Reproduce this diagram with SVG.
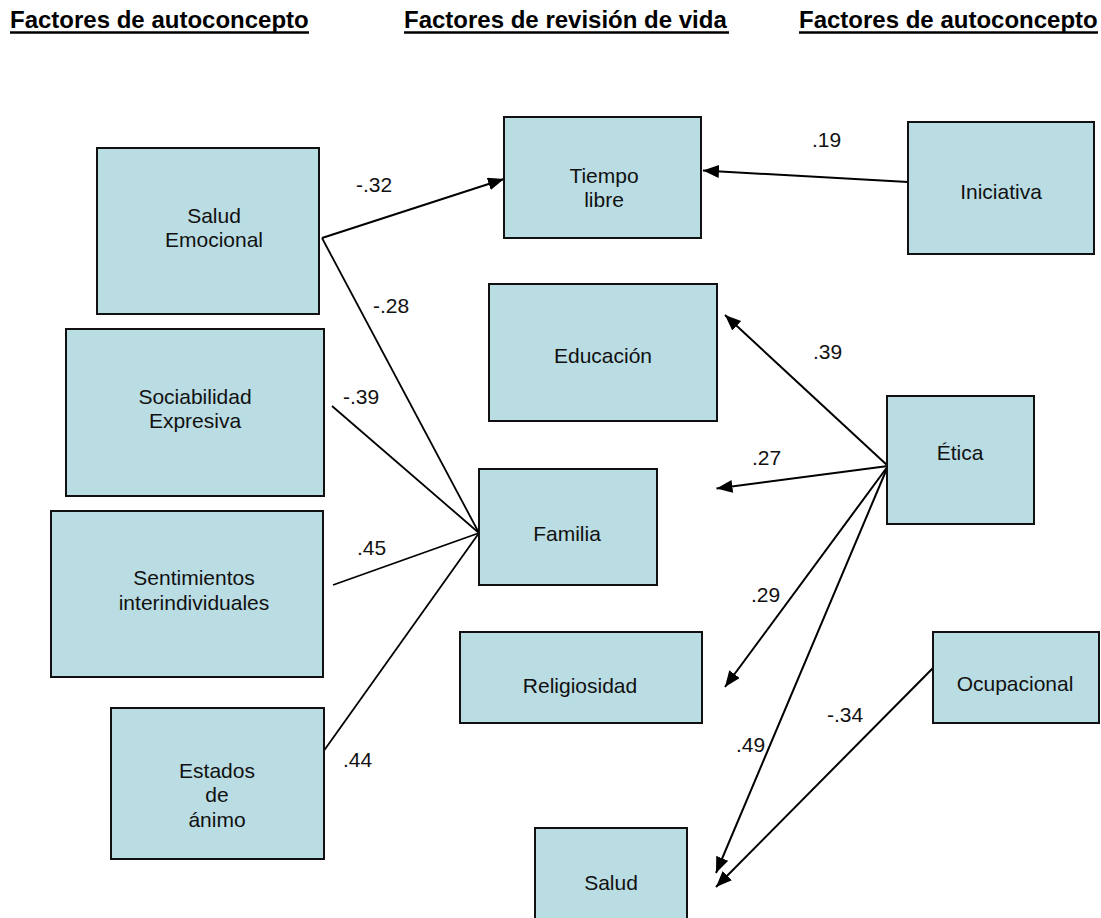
<svg xmlns="http://www.w3.org/2000/svg" width="1101" height="918" viewBox="0 0 1101 918">
<style>
.box{fill:#BADDE3;stroke:#111;stroke-width:2}
.t{font-family:"Liberation Sans",Arial,sans-serif;font-size:21px;fill:#111;text-anchor:middle}
.lbl{font-family:"Liberation Sans",Arial,sans-serif;font-size:21px;fill:#111}
.hdr{font-family:"Liberation Sans",Arial,sans-serif;font-size:24px;font-weight:bold;fill:#000}
.ul{stroke:#000;stroke-width:2.6}
.ln{stroke:#000;stroke-width:1.8;fill:none}
.ar{stroke:#000;stroke-width:2;fill:none;marker-end:url(#ah)}
</style>
<defs>
<marker id="ah" markerUnits="userSpaceOnUse" markerWidth="17" markerHeight="14" refX="16" refY="6.5" orient="auto">
<path d="M0,0 L16,6.5 L0,13 z" fill="#000"/>
</marker>
</defs>
<rect width="1101" height="918" fill="#fff"/>
<g id="headers">
<text class="hdr" x="10" y="28">Factores de autoconcepto</text>
<line class="ul" x1="10" y1="32.5" x2="309" y2="32.5"/>
<text class="hdr" x="404" y="28">Factores de revisión de vida</text>
<line class="ul" x1="404" y1="32.5" x2="729" y2="32.5"/>
<text class="hdr" x="799" y="28">Factores de autoconcepto</text>
<line class="ul" x1="799" y1="32.5" x2="1098" y2="32.5"/>
</g>
<g id="connectors">
<line class="ar" x1="322" y1="238" x2="504" y2="179"/>
<line class="ar" x1="908" y1="182" x2="703" y2="170.5"/>
<line class="ln" x1="322" y1="238" x2="479" y2="533"/>
<line class="ln" x1="332" y1="406" x2="479" y2="533"/>
<line class="ln" x1="333" y1="585" x2="479" y2="533"/>
<line class="ln" x1="323" y1="752" x2="479" y2="533"/>
<line class="ar" x1="888" y1="466" x2="725" y2="315"/>
<line class="ar" x1="888" y1="466" x2="716.5" y2="488.5"/>
<line class="ar" x1="888" y1="466" x2="725" y2="687"/>
<line class="ar" x1="888" y1="466" x2="716" y2="873"/>
<line class="ar" x1="933" y1="668" x2="716" y2="887"/>
</g>
<g id="labels">
<text class="lbl" x="356" y="192">-.32</text>
<text class="lbl" x="812" y="147">.19</text>
<text class="lbl" x="373" y="313">-.28</text>
<text class="lbl" x="343" y="404">-.39</text>
<text class="lbl" x="357" y="555">.45</text>
<text class="lbl" x="343" y="767">.44</text>
<text class="lbl" x="813" y="359">.39</text>
<text class="lbl" x="752" y="465">.27</text>
<text class="lbl" x="751" y="602">.29</text>
<text class="lbl" x="736" y="752">.49</text>
<text class="lbl" x="827" y="722">-.34</text>
</g>
<g id="salud-emocional">
<rect class="box" x="97" y="148" width="222" height="166"/>
<text class="t" x="214" y="223">Salud</text>
<text class="t" x="214" y="247">Emocional</text>
</g>
<g id="sociabilidad">
<rect class="box" x="66" y="329" width="258" height="167"/>
<text class="t" x="195" y="404">Sociabilidad</text>
<text class="t" x="195" y="428">Expresiva</text>
</g>
<g id="sentimientos">
<rect class="box" x="51" y="511" width="272" height="166"/>
<text class="t" x="194" y="585">Sentimientos</text>
<text class="t" x="194" y="610">interindividuales</text>
</g>
<g id="estados">
<rect class="box" x="111" y="708" width="213" height="151"/>
<text class="t" x="217" y="778">Estados</text>
<text class="t" x="217" y="802">de</text>
<text class="t" x="217" y="827">ánimo</text>
</g>
<g id="tiempo-libre">
<rect class="box" x="504" y="117" width="197" height="121"/>
<text class="t" x="604" y="183">Tiempo</text>
<text class="t" x="604" y="207">libre</text>
</g>
<g id="educacion">
<rect class="box" x="489" y="284" width="228" height="137"/>
<text class="t" x="603" y="363">Educación</text>
</g>
<g id="familia">
<rect class="box" x="479" y="469" width="178" height="116"/>
<text class="t" x="567" y="541">Familia</text>
</g>
<g id="religiosidad">
<rect class="box" x="460" y="632" width="242" height="91"/>
<text class="t" x="580" y="693">Religiosidad</text>
</g>
<g id="salud">
<rect class="box" x="535" y="828" width="152" height="95"/>
<text class="t" x="611" y="890">Salud</text>
</g>
<g id="iniciativa">
<rect class="box" x="908" y="122" width="186" height="132"/>
<text class="t" x="1001" y="199">Iniciativa</text>
</g>
<g id="etica">
<rect class="box" x="887" y="396" width="147" height="128"/>
<text class="t" x="960" y="460">Ética</text>
</g>
<g id="ocupacional">
<rect class="box" x="933" y="632" width="166" height="91"/>
<text class="t" x="1015" y="691">Ocupacional</text>
</g>
</svg>
